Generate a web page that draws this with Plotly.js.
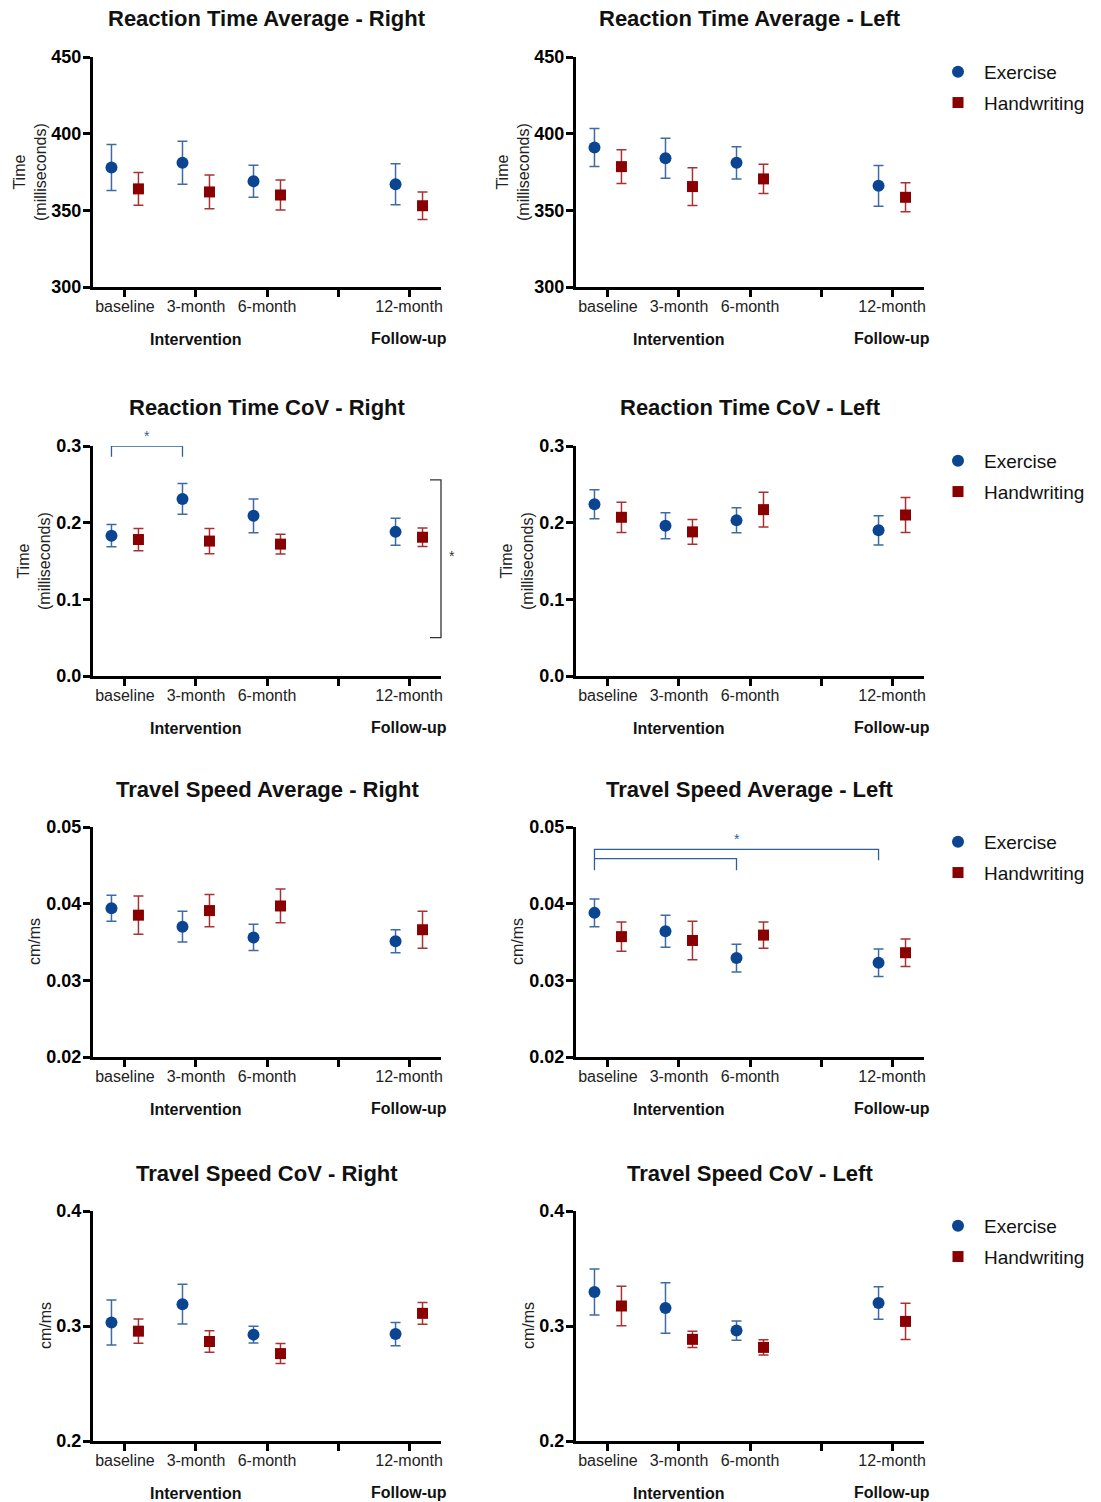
<!DOCTYPE html>
<html><head><meta charset="utf-8">
<script src="https://cdn.plot.ly/plotly-3.0.1.min.js"></script>
<style>html,body{margin:0;padding:0;background:#fff}</style>
</head><body><div id="chart" style="width:1101px;height:1502px"></div>
<script>
// ---------- DATA ----------
const timepoints = ['baseline', '3-month', '6-month', '12-month'];
const tickLabels = ['baseline', '3-month', '6-month', '', '12-month'];
const groupLabels = ['Intervention', 'Follow-up'];
const groupCenters = ['3-month', '12-month'];
const seriesNames = ['Exercise', 'Handwriting'];

const panelTitles = [
  'Reaction Time Average - Right', 'Reaction Time Average - Left',
  'Reaction Time CoV - Right', 'Reaction Time CoV - Left',
  'Travel Speed Average - Right', 'Travel Speed Average - Left',
  'Travel Speed CoV - Right', 'Travel Speed CoV - Left'
];
const yTitles = ['Time<br>(milliseconds)', 'Time<br>(milliseconds)', 'cm/ms', 'cm/ms'];
const yTicksRow = [
  [300, 350, 400, 450],
  [0.0, 0.1, 0.2, 0.3],
  [0.02, 0.03, 0.04, 0.05],
  [0.2, 0.3, 0.4]
];

const rtAvgRightEx = [378, 381, 369, 367];
const rtAvgRightExErr = [15, 14, 10.4, 13.3];
const rtAvgRightHw = [364, 362, 360, 353];
const rtAvgRightHwErr = [10.7, 11, 9.8, 9];

const rtAvgLeftEx = [391, 384, 381, 366];
const rtAvgLeftExErr = [12.4, 13, 10.5, 13.3];
const rtAvgLeftHw = [378.5, 365.5, 370.5, 358.5];
const rtAvgLeftHwErr = [11, 12.3, 9.5, 9.5];

const rtCovRightEx = [0.183, 0.231, 0.209, 0.188];
const rtCovRightExErr = [0.0145, 0.020, 0.022, 0.0176];
const rtCovRightHw = [0.178, 0.176, 0.172, 0.181];
const rtCovRightHwErr = [0.0145, 0.0165, 0.013, 0.012];

const rtCovLeftEx = [0.224, 0.196, 0.203, 0.190];
const rtCovLeftExErr = [0.019, 0.017, 0.0163, 0.019];
const rtCovLeftHw = [0.207, 0.188, 0.217, 0.210];
const rtCovLeftHwErr = [0.0197, 0.016, 0.0226, 0.0228];

const tsAvgRightEx = [0.0394, 0.0370, 0.0356, 0.0351];
const tsAvgRightExErr = [0.0017, 0.0020, 0.0017, 0.0015];
const tsAvgRightHw = [0.0385, 0.0391, 0.0397, 0.0366];
const tsAvgRightHwErr = [0.0025, 0.0021, 0.0022, 0.0024];

const tsAvgLeftEx = [0.0388, 0.0364, 0.0329, 0.0323];
const tsAvgLeftExErr = [0.0018, 0.0021, 0.0018, 0.0018];
const tsAvgLeftHw = [0.0357, 0.0352, 0.0359, 0.0336];
const tsAvgLeftHwErr = [0.0019, 0.0025, 0.0017, 0.0018];

const tsCovRightEx = [0.303, 0.319, 0.2925, 0.293];
const tsCovRightExErr = [0.0195, 0.0173, 0.0072, 0.0101];
const tsCovRightHw = [0.2955, 0.2865, 0.276, 0.311];
const tsCovRightHwErr = [0.0106, 0.0094, 0.0087, 0.0094];

const tsCovLeftEx = [0.3296, 0.3157, 0.296, 0.320];
const tsCovLeftExErr = [0.020, 0.022, 0.0083, 0.0142];
const tsCovLeftHw = [0.3174, 0.2884, 0.2814, 0.304];
const tsCovLeftHwErr = [0.0172, 0.0071, 0.0067, 0.0157];

const panelSeries = [
  [rtAvgRightEx, rtAvgRightExErr, rtAvgRightHw, rtAvgRightHwErr],
  [rtAvgLeftEx, rtAvgLeftExErr, rtAvgLeftHw, rtAvgLeftHwErr],
  [rtCovRightEx, rtCovRightExErr, rtCovRightHw, rtCovRightHwErr],
  [rtCovLeftEx, rtCovLeftExErr, rtCovLeftHw, rtCovLeftHwErr],
  [tsAvgRightEx, tsAvgRightExErr, tsAvgRightHw, tsAvgRightHwErr],
  [tsAvgLeftEx, tsAvgLeftExErr, tsAvgLeftHw, tsAvgLeftHwErr],
  [tsCovRightEx, tsCovRightExErr, tsCovRightHw, tsCovRightHwErr],
  [tsCovLeftEx, tsCovLeftExErr, tsCovLeftHw, tsCovLeftHwErr]
];

// ---------- STYLE / LAYOUT ----------
const W = 1101, H = 1502;
const FONT = 'Liberation Sans, Arial, sans-serif';
const exColor = '#0b4591', exErrColor = '#3f6ba3';
const hwColor = '#8a0000', hwErrColor = '#a83232';
const colLeft = [93, 576], colRight = [441, 924];
const rowTop = [57, 446, 827, 1211], rowBottom = [287, 676, 1057, 1441];
const titleY = [19, 408, 789, 1173];
const yTitleOffset = [63, 59, 59, 48];
const xOff = 0.19;
const xRange = [-0.45, 4.45];
const px = v => v / W;
const py = v => 1 - v / H;
const posOf = t => tickLabels.indexOf(t);

const traces = [];
const layout = {
  width: W, height: H, autosize: false,
  margin: {l: 0, r: 0, t: 0, b: 0},
  paper_bgcolor: '#fff', plot_bgcolor: '#fff',
  font: {family: FONT, color: '#111'},
  showlegend: true,
  annotations: [], shapes: []
};

for (let i = 0; i < 8; i++) {
  const row = Math.floor(i / 2), col = i % 2;
  const xa = i === 0 ? 'x' : 'x' + (i + 1);
  const ya = i === 0 ? 'y' : 'y' + (i + 1);
  const xKey = i === 0 ? 'xaxis' : 'xaxis' + (i + 1);
  const yKey = i === 0 ? 'yaxis' : 'yaxis' + (i + 1);
  const ticks = yTicksRow[row];
  layout[xKey] = {
    domain: [px(colLeft[col]), px(colRight[col])],
    anchor: ya, range: xRange, fixedrange: true,
    tickvals: tickLabels.map((t, k) => k), ticktext: tickLabels,
    ticks: 'outside', ticklen: 7, tickwidth: 3, tickcolor: '#000',
    ticklabelstandoff: -4,
    showline: true, linewidth: 3, linecolor: '#000',
    showgrid: false, zeroline: false,
    tickfont: {family: FONT, size: 16, color: '#222'}
  };
  layout[yKey] = {
    domain: [py(rowBottom[row]), py(rowTop[row])],
    anchor: xa, range: [ticks[0], ticks[ticks.length - 1]], fixedrange: true,
    tickvals: ticks, tickformat: row === 0 ? 'd' : (row === 2 ? '.2f' : '.1f'),
    ticks: 'outside', ticklen: 7, tickwidth: 3, tickcolor: '#000',
    ticklabelstandoff: -2,
    showline: true, linewidth: 3, linecolor: '#000',
    showgrid: false, zeroline: false,
    tickfont: {family: FONT, size: 18, color: '#000', weight: 700}
  };
  const [ex, exErr, hw, hwErr] = panelSeries[i];
  const xs = timepoints.map(posOf);
  const legendName = row === 0 ? 'legend' : 'legend' + (row + 1);
  traces.push({
    type: 'scatter', mode: 'markers', name: seriesNames[0], legendgroup: 'ex' + row,
    x: xs.map(v => v - xOff), y: ex, xaxis: xa, yaxis: ya,
    marker: {symbol: 'circle', size: 12, color: exColor},
    error_y: {type: 'data', array: exErr, visible: true, color: exErrColor, thickness: 1.5, width: 5},
    showlegend: col === 1, legend: legendName, hoverinfo: 'skip', cliponaxis: false
  });
  traces.push({
    type: 'scatter', mode: 'markers', name: seriesNames[1], legendgroup: 'hw' + row,
    x: xs.map(v => v + xOff), y: hw, xaxis: xa, yaxis: ya,
    marker: {symbol: 'square', size: 11, color: hwColor},
    error_y: {type: 'data', array: hwErr, visible: true, color: hwErrColor, thickness: 1.5, width: 5},
    showlegend: col === 1, legend: legendName, hoverinfo: 'skip', cliponaxis: false
  });

  // panel title
  layout.annotations.push({
    xref: 'paper', yref: 'paper', x: px((colLeft[col] + colRight[col]) / 2), y: py(titleY[row]),
    xanchor: 'center', yanchor: 'middle', showarrow: false,
    text: panelTitles[i], font: {family: FONT, size: 22, color: '#111', weight: 700}
  });
  // y title
  layout.annotations.push({
    xref: 'paper', yref: 'paper', x: px(colLeft[col] - yTitleOffset[row]),
    y: py((rowTop[row] + rowBottom[row]) / 2),
    xanchor: 'center', yanchor: 'middle', showarrow: false, textangle: -90,
    text: yTitles[row], font: {family: FONT, size: 16, color: '#222'}
  });
  // group labels
  groupLabels.forEach((g, k) => {
    layout.annotations.push({
      xref: xa, yref: 'paper', x: posOf(groupCenters[k]), y: py(rowBottom[row] + (k === 0 ? 52 : 51)),
      xanchor: 'center', yanchor: 'middle', showarrow: false,
      text: g, font: {family: FONT, size: 16, color: '#111', weight: 700}
    });
  });
  // legends
  if (col === 1) {
    layout[legendName] = {
      x: px(932), y: py(rowTop[row] - 4), xanchor: 'left', yanchor: 'top',
      font: {family: FONT, size: 19, color: '#111'},
      bgcolor: 'rgba(0,0,0,0)', borderwidth: 0,
      traceorder: 'grouped', tracegroupgap: 3,
      itemwidth: 42, itemsizing: 'trace'
    };
  }
}

// ---------- significance brackets ----------
const sigBlue = '#2f5f99';
// Reaction Time CoV - Right: baseline vs 3-month (Exercise)
{
  const b0 = posOf('baseline') - xOff, b1 = posOf('3-month') - xOff;
  layout.shapes.push({type: 'path', xref: 'x3', yref: 'y3',
    path: `M ${b0} 0.286 L ${b0} 0.3 L ${b1} 0.3 L ${b1} 0.286`,
    line: {color: sigBlue, width: 1.3}});
  layout.annotations.push({xref: 'x3', yref: 'y3', x: (b0 + b1) / 2, y: 0.3, yshift: 10,
    showarrow: false, text: '*', font: {family: FONT, size: 14, color: sigBlue}});
  // overall vertical bracket on the right
  layout.shapes.push({type: 'path', xref: 'paper', yref: 'y3',
    path: `M ${px(430)} 0.2557 L ${px(441)} 0.2557 L ${px(441)} 0.05 L ${px(430)} 0.05`,
    line: {color: '#333', width: 1.3}});
  layout.annotations.push({xref: 'paper', yref: 'y3', x: px(451.5), y: 0.157,
    showarrow: false, text: '*', font: {family: FONT, size: 14, color: '#333'}});
}
// Travel Speed Average - Left: baseline vs 6-month and 12-month (Exercise)
{
  const b0 = posOf('baseline') - xOff, b6 = posOf('6-month') - xOff, b12 = posOf('12-month') - xOff;
  layout.shapes.push({type: 'path', xref: 'x6', yref: 'y6',
    path: `M ${b0} 0.04435 L ${b0} 0.04709 L ${b12} 0.04709 L ${b12} 0.04565`,
    line: {color: sigBlue, width: 1.3}});
  layout.shapes.push({type: 'path', xref: 'x6', yref: 'y6',
    path: `M ${b0} 0.04587 L ${b6} 0.04587 L ${b6} 0.04435`,
    line: {color: sigBlue, width: 1.3}});
  layout.annotations.push({xref: 'x6', yref: 'y6', x: b6, y: 0.04709, yshift: 10,
    showarrow: false, text: '*', font: {family: FONT, size: 14, color: sigBlue}});
}

Plotly.newPlot('chart', traces, layout, {staticPlot: true, displayModeBar: false});
</script>
</body></html>
